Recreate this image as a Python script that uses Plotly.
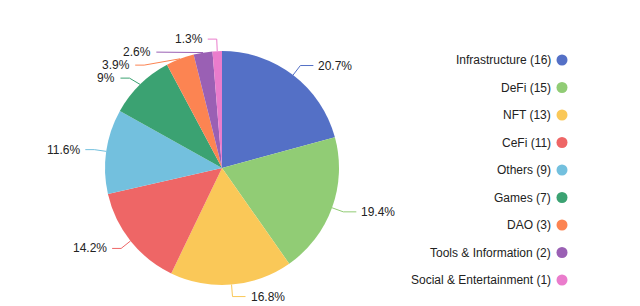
import math
import plotly.graph_objects as go

categories = ["Infrastructure", "DeFi", "NFT", "CeFi", "Others", "Games", "DAO",
              "Tools & Information", "Social & Entertainment"]
counts = [16, 15, 13, 11, 9, 7, 3, 2, 1]
pct_labels = ["20.7%", "19.4%", "16.8%", "14.2%", "11.6%", "9%", "3.9%", "2.6%", "1.3%"]
colors = ["#5470c6", "#91cc75", "#fac858", "#ee6666", "#73c0de",
          "#3ba272", "#fc8452", "#9a60b4", "#ea7ccc"]

W, H = 640, 306
CX, CY, R = 222, 168, 117
L1 = 12
L2_RIGHT, L2_LEFT = 13, 9
GAP = 13
FONT = "Liberation Sans, Arial, sans-serif"
TXT = "#222222"

fig = go.Figure()

fig.add_trace(go.Pie(
    labels=categories, values=counts, sort=False, direction="clockwise", rotation=0,
    marker=dict(colors=colors, line=dict(width=0)),
    textinfo="none", hoverinfo="label+value+percent", showlegend=False,
    domain=dict(x=[(CX - R) / W, (CX + R) / W], y=[1 - (CY + R) / H, 1 - (CY - R) / H]),
))

# label layout (ECharts-like)
total = sum(counts)
cum = 0
items = []
for i, v in enumerate(counts):
    mid = (cum + v / 2) / total * 2 * math.pi
    cum += v
    s, c = math.sin(mid), math.cos(mid)
    ax, ay = CX + R * s, CY - R * c
    bx, by = CX + (R + L1) * s, CY - (R + L1) * c
    items.append(dict(i=i, side=1 if s >= 0 else -1, ax=ax, ay=ay, bx=bx, by=by))

R1 = R + L1
for side in (1, -1):
    grp = sorted([it for it in items if it["side"] == side], key=lambda t: t["by"])
    prev = None
    for it in grp:
        if prev is not None and it["by"] < prev + GAP:
            it["by"] = prev + GAP
            dy = it["by"] - CY
            if abs(dy) < R1:
                it["bx"] = CX + side * math.sqrt(R1 ** 2 - dy ** 2)
        prev = it["by"]

annotations = []
for it in items:
    i = it["i"]
    l2 = L2_RIGHT if it["side"] > 0 else L2_LEFT
    cx_ = it["bx"] + it["side"] * l2
    fig.add_trace(go.Scatter(
        x=[it["ax"], it["bx"], cx_], y=[it["ay"], it["by"], it["by"]],
        mode="lines", line=dict(color=colors[i], width=1),
        hoverinfo="skip", showlegend=False, xaxis="x", yaxis="y"))
    annotations.append(dict(
        x=cx_ + it["side"] * 3, y=it["by"], xref="x", yref="y",
        text=pct_labels[i], showarrow=False,
        xanchor="left" if it["side"] > 0 else "right", yanchor="middle",
        font=dict(size=12, color=TXT, family=FONT)))

# custom legend (text right-aligned, icon on the right)
LEG_X, LEG_Y0, LEG_DY = 562, 60, 27.5
leg_y = [LEG_Y0 + k * LEG_DY for k in range(len(categories))]
fig.add_trace(go.Scatter(
    x=[LEG_X] * len(categories), y=leg_y, mode="markers",
    marker=dict(color=colors, size=11, line=dict(width=0)),
    hoverinfo="skip", showlegend=False, xaxis="x", yaxis="y"))
for k, (name, v) in enumerate(zip(categories, counts)):
    annotations.append(dict(
        x=LEG_X - 9, y=leg_y[k], xref="x", yref="y",
        text=f"{name} ({v})", showarrow=False, xanchor="right", yanchor="middle",
        font=dict(size=12, color=TXT, family=FONT)))

fig.update_layout(
    width=W, height=H, margin=dict(l=0, r=0, t=0, b=0),
    paper_bgcolor="white", plot_bgcolor="rgba(0,0,0,0)",
    xaxis=dict(range=[0, W], visible=False, fixedrange=True, domain=[0, 1]),
    yaxis=dict(range=[H, 0], visible=False, fixedrange=True, domain=[0, 1]),
    annotations=annotations, showlegend=False,
)

fig.write_html("out.html")
